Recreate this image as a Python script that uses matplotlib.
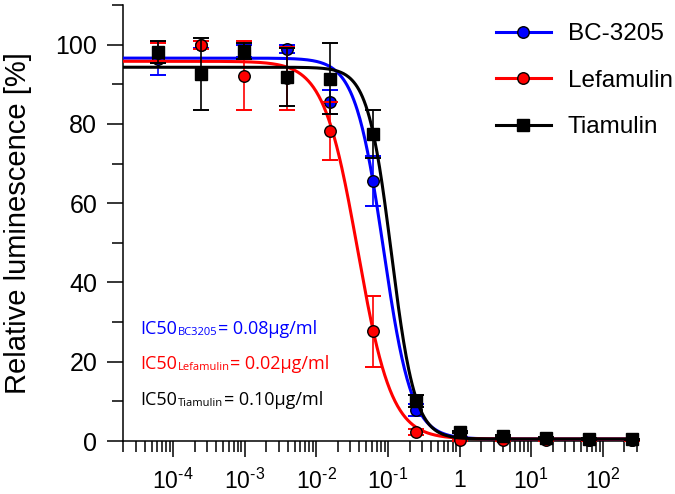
import numpy as np
import matplotlib
matplotlib.use("Agg")
import matplotlib.pyplot as plt
from matplotlib.lines import Line2D
from matplotlib.ticker import LogLocator, FuncFormatter, MultipleLocator, NullFormatter

# ---------------- data ----------------
conc = [0.000061, 0.000244, 0.000977, 0.0039, 0.0156, 0.0625, 0.25, 1, 4, 16, 64, 256]

bc_mean = [96.5, 100.0, 98.3, 98.9, 85.6, 65.6, 7.8, 0.8, 0.5, 0.4, 0.3, 0.3]
bc_err = [4.2, 0.8, 1.5, 1.0, 3.0, 6.4, 1.5, 0.3, 0.2, 0.2, 0.2, 0.2]

lef_mean = [97.8, 100.0, 92.2, 91.5, 78.3, 27.7, 2.2, 0.3, 0.3, 0.2, 0.2, 0.2]
lef_err = [2.5, 1.0, 8.6, 8.0, 7.3, 9.0, 0.8, 0.2, 0.2, 0.2, 0.2, 0.2]

tia_mean = [98.1, 92.6, 98.3, 91.8, 91.4, 77.5, 10.2, 2.3, 1.3, 0.7, 0.5, 0.4]
tia_err = [2.7, 9.0, 2.0, 7.4, 8.9, 6.0, 1.5, 0.3, 0.3, 0.2, 0.2, 0.2]

# four-parameter logistic fit parameters: top, bottom, IC50, hill slope
bc_fit = [96.6, 0.5, 0.0864, 2.2]
lef_fit = [95.8, 0.5, 0.0378, 1.83]
tia_fit = [94.3, 0.5, 0.1116, 2.63]

series_names = ["BC-3205", "Lefamulin", "Tiamulin"]
ic50_subs = ["BC3205", "Lefamulin", "Tiamulin"]
ic50_vals = ["= 0.08\u00b5g/ml", "= 0.02\u00b5g/ml", "= 0.10\u00b5g/ml"]

y_ticks = [0, 20, 40, 60, 80, 100]

# ---------------- style ----------------
plt.rcParams["font.family"] = ["Liberation Sans", "DejaVu Sans"]
plt.rcParams["mathtext.fontset"] = "custom"
plt.rcParams["mathtext.rm"] = "Liberation Sans"
plt.rcParams["mathtext.it"] = "Liberation Sans"

colors = ["#0000ff", "#ff0000", "#000000"]
markers = ["o", "o", "s"]
msizes = [8.3, 8.3, 9.0]

fig = plt.figure(figsize=(6.75, 4.94), dpi=100)
ax = fig.add_axes([123 / 675, 53 / 494, 514 / 675, 436 / 494])

xmin, xmax = 2e-5, 300
xs = np.logspace(np.log10(xmin), np.log10(xmax), 600)


def logistic(x, p):
    top, bottom, ic50, hill = p
    return bottom + (top - bottom) / (1.0 + (x / ic50) ** hill)


means = [bc_mean, lef_mean, tia_mean]
errs = [bc_err, lef_err, tia_err]
fits = [bc_fit, lef_fit, tia_fit]

for i in range(3):
    z = 3 + i * 3
    ax.plot(xs, logistic(xs, fits[i]), color=colors[i], lw=2.2, zorder=z, solid_capstyle="butt")
    ax.errorbar(conc, means[i], yerr=errs[i], fmt="none", ecolor=colors[i],
                elinewidth=1.2, capsize=5.5, capthick=1.4, zorder=z + 1, clip_on=False)
    ax.plot(conc, means[i], linestyle="none", marker=markers[i], ms=msizes[i],
            mfc=colors[i], mec="black", mew=1.0, zorder=z + 2, clip_on=False)

ax.set_xscale("log")
ax.set_xlim(xmin, xmax)
ax.set_ylim(0, 110)

ax.xaxis.set_major_locator(LogLocator(base=10, numticks=20))
ax.xaxis.set_minor_locator(LogLocator(base=10, subs=np.arange(2, 10), numticks=200))
ax.xaxis.set_minor_formatter(NullFormatter())


def fmt(v, pos):
    e = int(round(np.log10(v)))
    if e == 0:
        return "1"
    return r"$\mathregular{10^{\text{%d}}}$" % e


ax.xaxis.set_major_formatter(FuncFormatter(fmt))
ax.set_yticks(y_ticks)
ax.yaxis.set_minor_locator(MultipleLocator(10))

for s in ["top", "right"]:
    ax.spines[s].set_visible(False)
for s in ["left", "bottom"]:
    ax.spines[s].set_linewidth(1.1)

ax.tick_params(which="major", direction="out", length=11.5, width=1.1)
ax.tick_params(which="minor", direction="out", length=8, width=1.1)
ax.tick_params(axis="x", which="major", labelsize=16.5, pad=8.5)
ax.tick_params(axis="y", which="major", labelsize=18, pad=7)

ax.set_ylabel("Relative luminescence [%]", fontsize=21)
ax.yaxis.set_label_coords(-0.177, 0.5)

# IC50 annotations
ic_y = [27.1, 18.1, 9.2]
for i in range(3):
    t1 = ax.text(0.0345, ic_y[i] / 110, "IC50", transform=ax.transAxes, fontsize=13,
                 family="Open Sans", color=colors[i], va="baseline", ha="left")
    t2 = ax.annotate(ic50_subs[i], xy=(1, 0), xycoords=t1, xytext=(0.3, 0),
                     textcoords="offset points", fontsize=8, family="Open Sans",
                     color=colors[i], va="bottom", ha="left")
    ax.annotate(ic50_vals[i], xy=(1, 0), xycoords=t2, xytext=(0.3, 0),
                textcoords="offset points", fontsize=13, family="Open Sans",
                color=colors[i], va="bottom", ha="left")

# legend
handles = [Line2D([], [], color=colors[i], lw=2.2, marker=markers[i], ms=msizes[i],
                  mfc=colors[i], mec="black", mew=1.0) for i in range(3)]
fig.legend(handles, series_names, loc="upper left", bbox_to_anchor=(496 / 675, 1 - 23 / 494),
           bbox_transform=fig.transFigure, frameon=False, fontsize=17.5,
           handlelength=2.26, handletextpad=0.7, labelspacing=1.01,
           borderpad=0, borderaxespad=0)

fig.savefig("out.png", dpi=100)
